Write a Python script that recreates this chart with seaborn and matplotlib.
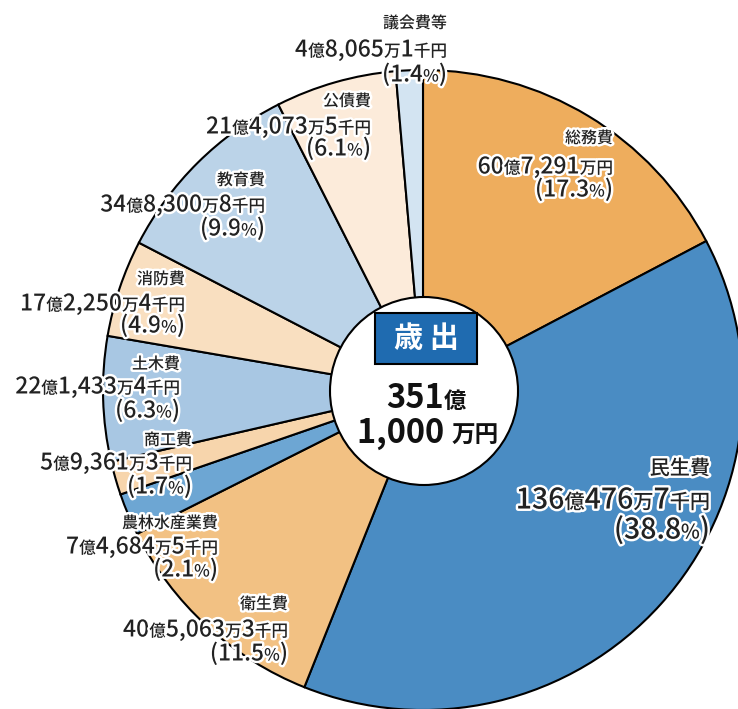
import matplotlib
matplotlib.use("Agg")
import matplotlib.pyplot as plt
import matplotlib.patheffects as pe
import seaborn as sns

# 歳出 data (単位: 千円), clockwise from 12 o'clock
categories = ["総務費", "民生費", "衛生費", "農林水産業費", "商工費",
              "土木費", "消防費", "教育費", "公債費", "議会費等"]
values = [6072910, 13604767, 4050633, 746845, 593613,
          2214334, 1722504, 3483008, 2140735, 480651]
percents = ["17.3", "38.8", "11.5", "2.1", "1.7",
            "6.3", "4.9", "9.9", "6.1", "1.4"]
colors = ["#EEAD5D", "#4A8CC3", "#F2C183", "#6DA6D3", "#F7D5AC",
          "#A8C7E3", "#F9DFC0", "#BBD3E8", "#FCEBDA", "#D3E4F2"]

# label layout: right edge x, centre y of the three lines (image pixels)
label_pos = {
    "議会費等": (447, (22, 48, 73)),
    "総務費": (613, (137, 165, 188)),
    "民生費": (710, (467, 498, 528)),
    "衛生費": (288, (603, 628, 652)),
    "農林水産業費": (218, (522, 545, 568)),
    "商工費": (192, (439, 461, 485)),
    "土木費": (180, (363, 385, 409)),
    "消防費": (185, (278, 302, 324)),
    "教育費": (265, (179, 203, 227)),
    "公債費": (371, (100, 125, 147)),
}

W, H = 738, 709
sns.set_theme(style="white")
plt.rcParams["font.family"] = ["Noto Sans CJK JP", "DejaVu Sans"]

fig = plt.figure(figsize=(W / 100, H / 100), dpi=100)
ax = fig.add_axes([0, 0, 1, 1])

cx, cy, r = 423, H - 390, 320
ax.pie(values, colors=colors, startangle=90, counterclock=False,
       center=(cx, cy), radius=r,
       wedgeprops=dict(edgecolor="black", linewidth=1.5))
ax.add_patch(plt.Circle((cx + 1, H - 391), 94, facecolor="white",
                        edgecolor="black", linewidth=1.5, zorder=5))
ax.set_xlim(0, W)
ax.set_ylim(0, H)
ax.set_aspect("auto")
ax.axis("off")

renderer = fig.canvas.get_renderer()
stroke = [pe.withStroke(linewidth=3.5, foreground="white")]
SMALL = set("億万千円%")


def fmt_amount(v):
    oku, rest = divmod(v, 100000)
    man, sen = divmod(rest, 10)
    s = f"{oku}億{man:,}万"
    if sen:
        s += f"{sen}千"
    return s + "円"


def split(s, big, small):
    parts = []
    for ch in s:
        size = small if ch in SMALL else big
        if parts and parts[-1][1] == size:
            parts[-1][0] += ch
        else:
            parts.append([ch, size])
    return parts


def rich(x, y_img, parts, align="right", weight="medium", color="#222222",
         effects=stroke, z=6):
    arts = []
    for t, s in parts:
        a = ax.text(0, 0, t, fontsize=s, fontweight=weight, color=color,
                    va="baseline", ha="left", path_effects=effects, zorder=z)
        arts.append(a)
    widths = [a.get_window_extent(renderer).width for a in arts]
    total = sum(widths)
    x0 = x - total if align == "right" else x - total / 2
    big = max(s for _, s in parts)
    yb = H - (y_img + 0.37 * big * 100 / 72)
    for a, w in zip(arts, widths):
        a.set_position((x0, yb))
        x0 += w


for name, v, p in zip(categories, values, percents):
    xr, (y1, y2, y3) = label_pos[name]
    big = 20.5 if name == "民生費" else 16.5
    small = 14.5 if name == "民生費" else 12
    tsize = 14.5 if name == "民生費" else 11.5
    rich(xr, y1, [[name, tsize]])
    rich(xr, y2, split(fmt_amount(v), big, small))
    rich(xr, y3, split(f"({p}%)", big, small))

# centre label
ax.add_patch(plt.Rectangle((375, H - 364), 102, 51, facecolor="#1F6BB0",
                           edgecolor="black", linewidth=1.5, zorder=6))
ax.text(426, H - 338, "歳 出", fontsize=21, fontweight="bold", color="white",
        ha="center", va="center", zorder=7)
rich(426, 396, [["351", 23.5], ["億", 16]], align="center", weight="bold",
     color="#111111", effects=None, z=7)
rich(428, 431, [["1,000 ", 23.5], ["万円", 17]], align="center", weight="bold",
     color="#111111", effects=None, z=7)

fig.savefig("out.png", dpi=100)
